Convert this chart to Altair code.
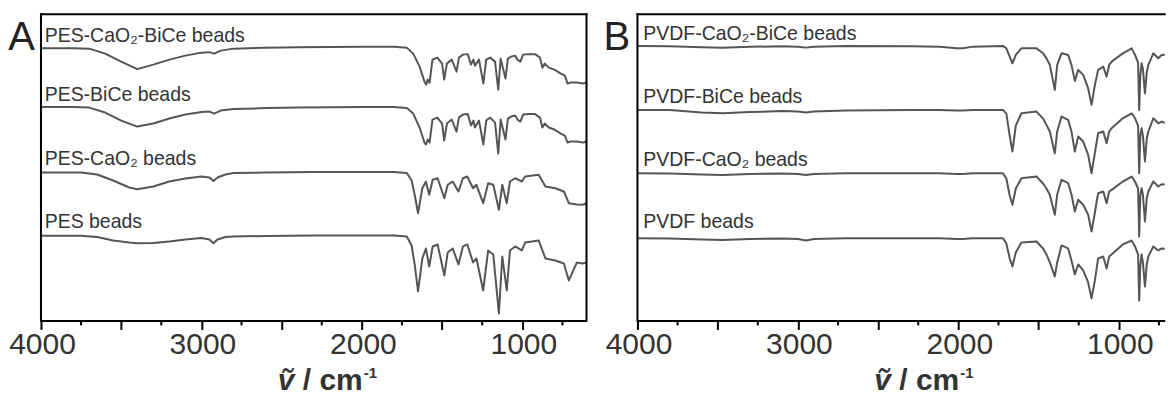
import altair as alt
import pandas as pd

# ---------------- Panel A (PES) ----------------
A_wn = [4000, 3800, 3700, 3600, 3500, 3400, 3300, 3200, 3100, 3000, 2950, 2920, 2880, 2800, 2600, 2400,
        2000, 1800, 1720, 1680, 1640, 1610, 1600, 1590, 1578, 1560, 1530, 1500, 1487, 1470, 1440, 1410,
        1395, 1370, 1340, 1320, 1305, 1295, 1270, 1243, 1225, 1200, 1170, 1150, 1135, 1105, 1090, 1070,
        1045, 1030, 1012, 995, 960, 920, 890, 875, 860, 835, 800, 760, 735, 718, 700, 660, 620, 600]
A1_T = [272.5, 272.5, 272, 267, 259, 251.5, 256, 261, 265, 268, 268.5, 267, 270, 272, 273, 273.5,
        274, 274, 273, 267, 254, 239, 236, 241, 238, 261, 263, 257, 241, 257, 261, 249,
        263, 266, 266.5, 256, 261, 255, 261, 237, 261, 263, 259, 231, 262, 242, 262, 264,
        265, 261, 259, 266, 266.5, 266.5, 263, 253, 257, 253, 251, 247, 245, 237, 238, 238, 237, 238]
A2_T = [213.7, 213.7, 213, 208, 200, 194, 197, 202, 206, 208.5, 209, 207, 210, 211.5, 212.5, 213,
        213.5, 213.5, 212.5, 207, 193, 178, 176, 181, 178, 201, 203, 197, 180, 197, 201, 189,
        203, 206, 206.5, 195, 200, 193, 200, 176, 200, 203, 198, 167, 201, 181, 202, 204,
        205, 201, 199, 206, 206.5, 206.5, 203, 193, 197, 193, 191, 187, 185, 178, 179, 179, 178, 179]

A3_wn = [4000, 3750, 3650, 3550, 3450, 3400, 3300, 3200, 3100, 3000, 2950, 2925, 2900, 2850, 2800, 2600,
         2300, 2000, 1800, 1720, 1690, 1670, 1650, 1623, 1601, 1580, 1559, 1528, 1486, 1465, 1434, 1398,
         1370, 1343, 1307, 1286, 1244, 1213, 1181, 1146, 1125, 1097, 1077, 1045, 1003, 982, 898, 856,
         794, 741, 710, 660, 625, 600]
A3_T = [148, 148, 146, 140, 133, 131.3, 134, 139, 142, 144, 143, 139.5, 143, 146, 147.5, 148,
        148.5, 148.5, 148.5, 147.5, 140, 125, 107.3, 132.3, 139, 125.7, 140.7, 142.3, 122.3, 135.7, 139, 129,
        142.3, 144, 132.3, 135.7, 117.3, 137.3, 135.7, 110.7, 135.7, 117.3, 139, 142.3, 139, 144, 145.7, 134,
        132.3, 129, 117.3, 116, 115.7, 117]
A4_T = [84.7, 84.7, 83.5, 80, 78, 77.3, 77.5, 79, 81, 82.5, 81, 77.3, 81, 83.5, 84, 84.5,
        85, 85, 85, 84, 75, 55, 29, 62, 72, 54, 74, 76, 45, 68, 72, 56,
        74, 76, 58, 62, 30, 70, 66, 7, 64, 30, 70, 74, 70, 78, 80, 62,
        60, 57, 40, 58, 57, 58]

A_names = ["PES-CaO\u2082-BiCe beads", "PES-BiCe beads", "PES-CaO\u2082 beads", "PES beads"]
A_label_y = [278.3, 220, 155.7, 92.3]

# ---------------- Panel B (PVDF) ----------------
B_wn = [4000, 3800, 3600, 3470, 3300, 3100, 3000, 2950, 2900, 2700, 2300, 2117, 2010, 1970, 1911, 1722,
        1701, 1680, 1663, 1642, 1607, 1513, 1472, 1451, 1430, 1399, 1384, 1357, 1316, 1295, 1274, 1253,
        1222, 1191, 1170, 1149, 1129, 1097, 1076, 1060, 1045, 975, 920, 899, 880, 873, 866, 858,
        850, 837, 826, 816, 785, 754, 733, 681, 648]
B1_T = [274.7, 274.3, 273.5, 273, 273.8, 274.3, 274, 273, 274, 274.7, 274.5, 274, 272.3, 272.3, 274, 274.7,
        272.3, 264, 257.3, 265.7, 272.3, 272.3, 267.3, 262.3, 255.7, 230.7, 255.7, 267.3, 265.7, 255.7, 239.7, 250.7,
        245.7, 232.3, 215.7, 235.7, 250.7, 254, 244, 255.7, 259, 267.3, 272.3, 265.7, 258, 210.7, 245, 257.3,
        252, 227.3, 248, 255.7, 267.3, 262.3, 265.7, 266.3, 264]
B2_T = [210.7, 210.5, 208, 207.3, 208.5, 209.5, 209, 208, 209, 210, 210.5, 210.7, 210, 210, 210.7, 210.7,
        207, 185, 169, 195, 207.3, 209, 202, 195.7, 189, 167.3, 189, 204, 200.7, 189, 169, 184,
        179, 165.7, 147.3, 168, 187.3, 189, 177.3, 189, 192.3, 202.3, 207.3, 202.3, 195, 147.3, 185, 192.3,
        185, 159, 182, 189, 202.3, 197.3, 199, 195.7, 190.7]
B3_T = [147.3, 147, 146, 145.5, 146.5, 147, 146.5, 145.5, 146.5, 147.3, 147.3, 147.3, 146.5, 146.5, 147.3, 147.3,
        142, 125, 115.7, 132, 142.3, 144, 137, 132, 125.7, 105.7, 126, 140.7, 137.3, 126, 109, 120.7,
        115.7, 105.7, 89, 108, 127.3, 129, 117.3, 129, 130.7, 139, 144, 139, 132, 84, 125, 132.3,
        126, 99, 122, 129, 139, 134, 136.3, 135.7, 134]
B4_T = [82.3, 82, 81, 80.5, 81.5, 82, 81.5, 80, 81.5, 82.3, 82.3, 82.3, 81.5, 81.5, 82.3, 82.3,
        77, 62, 54, 68, 78, 79, 72, 66, 58, 44, 58, 75, 72, 60, 46, 56,
        50, 38, 22, 40, 62, 64, 52, 64, 66, 76, 80, 74, 66, 20, 55, 66,
        58, 34, 56, 64, 74, 70, 72, 71, 70]

B_names = ["PVDF-CaO\u2082-BiCe beads", "PVDF-BiCe beads", "PVDF-CaO\u2082 beads", "PVDF beads"]
B_label_y = [280.7, 218, 154.7, 92.3]

major_ticks = [4000, 3500, 3000, 2500, 2000, 1500, 1000]
minor_ticks = [3750, 3250, 2750, 2250, 1750, 1250, 750]

X_LEFT = 4000
A_RIGHT = 600
B_RIGHT = 714
PX_PER_UNIT = 546 / 3400
WA = 546
WB = round((X_LEFT - B_RIGHT) * PX_PER_UNIT, 1)
H = 306.5
FONT = "Liberation Sans"
LINE = "#555555"
TXT = "#333333"
TITLE_X = 237
TITLE_Y = 376


def frame_df(series):
    rows = []
    for name, (wn, t) in series.items():
        for a, b in zip(wn, t):
            rows.append({"series": name, "wn": a, "T": b, "order": -a})
    return pd.DataFrame(rows)


def txt(s, x, y, size, **kw):
    return alt.Chart(pd.DataFrame({"t": [s]})).mark_text(
        align="left", baseline="alphabetic", font=FONT, fontSize=size, color=TXT, **kw
    ).encode(text="t:N", x=alt.value(x), y=alt.value(y))


def panel(df, names, label_x, label_y, letter, letter_x, right, width, right_frame):
    xs = alt.Scale(domain=[X_LEFT, right], nice=False, zero=False)
    ys = alt.Scale(domain=[0, H], nice=False, zero=False)
    xaxis = alt.Axis(values=major_ticks, labelExpr="datum.value % 1000 == 0 ? format(datum.value, 'd') : ''",
                     tickSize=9, tickWidth=2, tickColor="black", domainColor="black", domainWidth=2,
                     labelFont=FONT, labelFontSize=30, labelColor=TXT, labelPadding=0, labelOffset=1,
                     title=None, grid=False, labelFlush=False, labelOverlap=False)
    lines = alt.Chart(df).mark_line(color=LINE, strokeWidth=2, strokeJoin="round", clip=True).encode(
        x=alt.X("wn:Q", scale=xs, axis=xaxis),
        y=alt.Y("T:Q", scale=ys, axis=None),
        detail="series:N",
        order="order:Q",
    )
    lab = pd.DataFrame({"name": names, "wn": [label_x] * 4, "T": label_y})
    labels = alt.Chart(lab).mark_text(align="left", baseline="alphabetic", font=FONT, fontSize=19.5,
                                      color=TXT).encode(
        x=alt.X("wn:Q", scale=xs), y=alt.Y("T:Q", scale=ys), text="name:N")
    minor = alt.Chart(pd.DataFrame({"wn": minor_ticks})).mark_rule(color="black", strokeWidth=2).encode(
        x=alt.X("wn:Q", scale=xs), y=alt.value(H), y2=alt.value(H + 5))
    one = pd.DataFrame({"t": [letter]})
    top = alt.Chart(one).mark_rule(color="black", strokeWidth=2, strokeCap="square").encode(
        x=alt.value(0), x2=alt.value(width), y=alt.value(0))
    left = alt.Chart(one).mark_rule(color="black", strokeWidth=2, strokeCap="square").encode(
        x=alt.value(0), y=alt.value(0), y2=alt.value(H))
    layers = [lines, minor, labels, top, left]
    if right_frame:
        layers.append(alt.Chart(one).mark_rule(color="black", strokeWidth=2, strokeCap="square").encode(
            x=alt.value(width), y=alt.value(0), y2=alt.value(H)))
    layers.append(alt.Chart(one).mark_text(
        align="left", baseline="alphabetic", font=FONT, fontSize=40, color="#222222").encode(
        text="t:N", x=alt.value(letter_x), y=alt.value(35.5)))
    # axis title: italic wavenumber symbol, "/ cm" and superscript "-1"
    layers += [
        txt("\u1e7d", TITLE_X, TITLE_Y, 30, fontWeight="bold", fontStyle="italic"),
        txt("/ cm", TITLE_X + 25, TITLE_Y, 30, fontWeight="bold"),
        txt("-1", TITLE_X + 86, TITLE_Y - 12, 15, fontWeight="bold"),
    ]
    return alt.layer(*layers).properties(width=width, height=H)


dfA = frame_df({A_names[0]: (A_wn, A1_T), A_names[1]: (A_wn, A2_T),
                A_names[2]: (A3_wn, A3_T), A_names[3]: (A3_wn, A4_T)})
dfB = frame_df({B_names[0]: (B_wn, B1_T), B_names[1]: (B_wn, B2_T),
                B_names[2]: (B_wn, B3_T), B_names[3]: (B_wn, B4_T)})

pA = panel(dfA, A_names, 3977, A_label_y, "A", -32.7, A_RIGHT, WA, True)
pB = panel(dfB, B_names, 3964, B_label_y, "B", -34, B_RIGHT, WB, False)

chart = alt.hconcat(pA, pB, spacing=51, bounds="flush").properties(
    padding={"left": 0, "top": 4, "right": 0, "bottom": 0}
).configure_view(stroke=None)

chart.save("out.html", embed_options={"renderer": "svg", "actions": False})
